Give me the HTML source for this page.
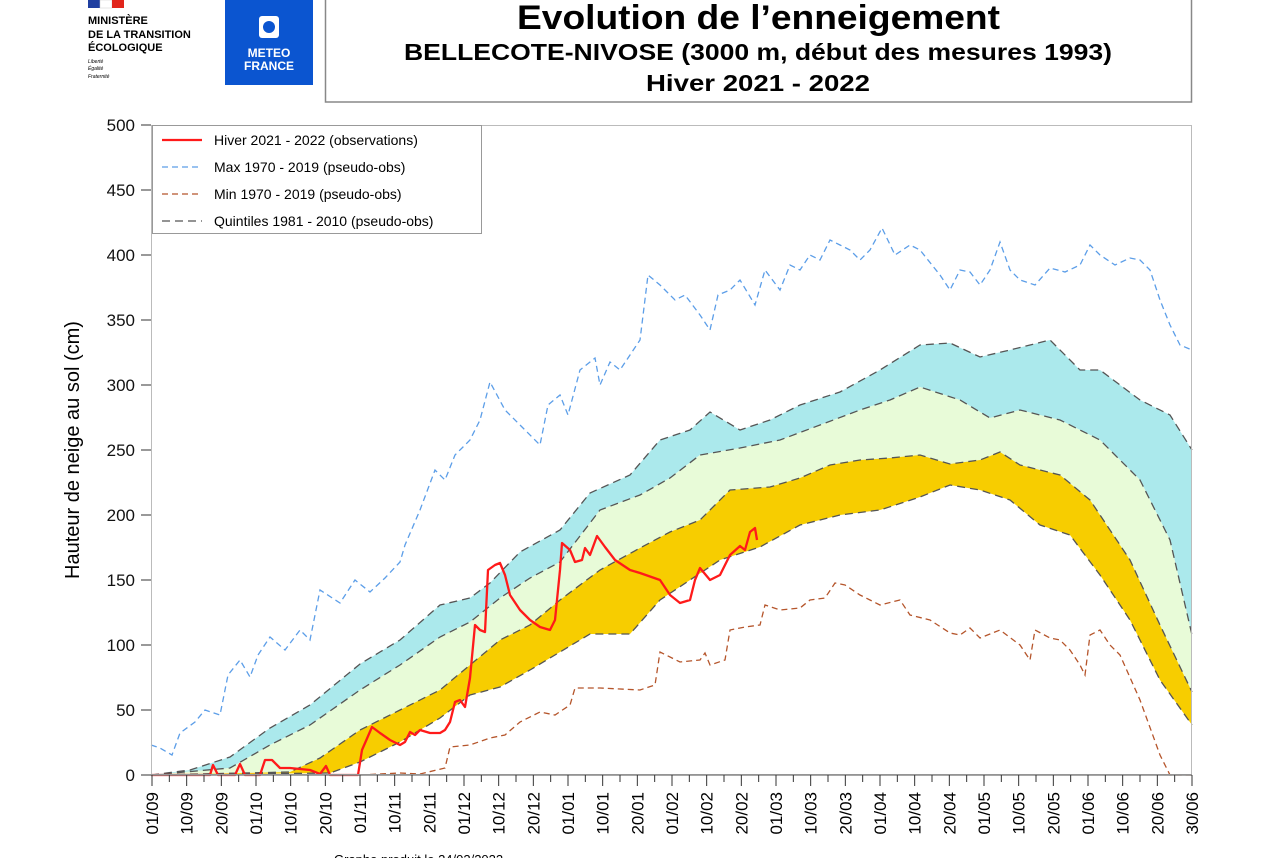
<!DOCTYPE html>
<html><head><meta charset="utf-8"><style>
body{margin:0;background:#fff;width:1287px;height:858px;overflow:hidden;font-family:"Liberation Sans",sans-serif}
</style></head><body>
<svg width="1287" height="858" xmlns="http://www.w3.org/2000/svg" font-family="Liberation Sans, sans-serif">
<rect x="88" y="0" width="12" height="8" fill="#1f3fa0"/><rect x="100" y="0" width="12" height="8" fill="#fff" stroke="#ccc" stroke-width="0.5"/><rect x="112" y="0" width="12" height="8" fill="#e1251b"/>
<text x="88" y="24" font-size="11" font-weight="bold">MINISTÈRE</text>
<text x="88" y="38" font-size="11" font-weight="bold">DE LA TRANSITION</text>
<text x="88" y="51" font-size="11" font-weight="bold">ÉCOLOGIQUE</text>
<text x="88" y="63" font-size="5" font-style="italic">Liberté</text><text x="88" y="70" font-size="5" font-style="italic">Égalité</text><text x="88" y="78" font-size="5" font-style="italic">Fraternité</text>
<rect x="225" y="0" width="88" height="85" fill="#0b55d0"/>
<rect x="259" y="16" width="20" height="22" rx="3" fill="#fff"/><circle cx="269" cy="27" r="6" fill="#0b55d0"/>
<text x="269" y="57" font-size="12" font-weight="bold" fill="#fff" text-anchor="middle">METEO</text>
<text x="269" y="70" font-size="12" font-weight="bold" fill="#fff" text-anchor="middle">FRANCE</text>
<rect x="325.5" y="-2" width="866" height="104" fill="none" stroke="#888" stroke-width="1.5"/>
<text x="517" y="29" font-size="34" font-weight="bold" textLength="483" lengthAdjust="spacingAndGlyphs">Evolution de l’enneigement</text>
<text x="404" y="60" font-size="23" font-weight="bold" textLength="708" lengthAdjust="spacingAndGlyphs">BELLECOTE-NIVOSE (3000 m, début des mesures 1993)</text>
<text x="646" y="91" font-size="23" font-weight="bold" textLength="224" lengthAdjust="spacingAndGlyphs">Hiver 2021 - 2022</text>

<g id="bands" stroke="none">
<polygon fill="#abe9ec" points="151,775 190,770 230,757 270,728 310,705 360,664 400,640 440,605 470,598 490,583 520,552 560,530 590,493 630,475 660,440 690,430 710,412 740,430 770,420 800,405 840,392 880,370 920,345 950,343 980,357 1010,350 1050,340 1080,370 1100,370 1140,400 1170,415 1192,450 1192,635 1170,540 1140,480 1100,440 1060,420 1020,410 990,418 960,400 920,387 890,400 860,410 820,425 780,440 740,448 700,455 670,478 640,495 600,510 560,562 530,578 500,598 470,622 440,637 400,665 360,690 310,725 270,745 230,768"/>
<polygon fill="#e8fbd8" points="151,775 230,768 270,745 310,725 360,690 400,665 440,637 470,622 500,598 530,578 560,562 600,510 640,495 670,478 700,455 740,448 780,440 820,425 860,410 890,400 920,387 960,400 990,418 1020,410 1060,420 1100,440 1140,480 1170,540 1192,635 1192,692 1160,625 1130,560 1090,500 1060,475 1020,465 1000,452 980,460 950,464 920,455 890,458 860,460 830,465 800,478 770,487 730,490 700,520 670,532 640,548 600,570 560,600 530,625 500,640 470,665 440,690 400,710 360,730 320,758 290,772"/>
<polygon fill="#f7cd00" points="151,775 290,772 320,758 360,730 400,710 440,690 470,665 500,640 530,625 560,600 600,570 640,548 670,532 700,520 730,490 770,487 800,478 830,465 860,460 890,458 920,455 950,464 980,460 1000,452 1020,465 1060,475 1090,500 1130,560 1160,625 1192,692 1192,725 1160,680 1130,620 1100,575 1070,535 1040,525 1010,500 980,490 950,485 920,497 880,510 840,515 800,525 760,547 720,560 690,580 660,600 630,634 590,634 560,652 530,670 500,687 470,695 440,718 400,742 360,762 330,773"/>
</g>
<g fill="none" stroke="#555" stroke-width="1.3" stroke-dasharray="8,5">
<polyline points="151,775 190,770 230,757 270,728 310,705 360,664 400,640 440,605 470,598 490,583 520,552 560,530 590,493 630,475 660,440 690,430 710,412 740,430 770,420 800,405 840,392 880,370 920,345 950,343 980,357 1010,350 1050,340 1080,370 1100,370 1140,400 1170,415 1192,450"/>
<polyline points="151,775 230,768 270,745 310,725 360,690 400,665 440,637 470,622 500,598 530,578 560,562 600,510 640,495 670,478 700,455 740,448 780,440 820,425 860,410 890,400 920,387 960,400 990,418 1020,410 1060,420 1100,440 1140,480 1170,540 1192,635"/>
<polyline points="151,775 290,772 320,758 360,730 400,710 440,690 470,665 500,640 530,625 560,600 600,570 640,548 670,532 700,520 730,490 770,487 800,478 830,465 860,460 890,458 920,455 950,464 980,460 1000,452 1020,465 1060,475 1090,500 1130,560 1160,625 1192,692"/>
<polyline points="151,775 330,773 360,762 400,742 440,718 470,695 500,687 530,670 560,652 590,634 630,634 660,600 690,580 720,560 760,547 800,525 840,515 880,510 920,497 950,485 980,490 1010,500 1040,525 1070,535 1100,575 1130,620 1160,680 1192,725"/>
</g>
<polyline fill="none" stroke="#5c9ee8" stroke-width="1.3" stroke-dasharray="6,4" points="151,745 160,748 172,755 180,733 195,722 205,710 220,715 228,675 240,660 250,677 258,655 270,637 285,650 300,630 310,640 320,590 340,603 355,580 370,592 385,578 400,562 405,545 420,510 435,470 445,480 455,455 470,440 480,420 490,382 505,410 520,425 540,445 548,405 560,395 568,415 580,370 595,358 600,385 610,362 620,370 630,355 640,340 648,275 660,285 675,300 685,295 700,315 710,330 718,295 730,290 740,280 755,305 765,270 780,290 790,265 800,270 810,255 820,260 830,240 840,245 850,250 860,260 870,250 882,228 895,255 910,245 920,250 940,275 950,290 960,270 970,272 980,285 990,270 1000,242 1010,270 1020,280 1035,285 1050,268 1065,272 1080,265 1090,245 1100,255 1115,265 1130,258 1140,260 1150,270 1160,300 1170,325 1180,345 1192,350"/>
<polyline fill="none" stroke="#b5552b" stroke-width="1.3" stroke-dasharray="6,4" points="360,775 400,773 420,774 445,768 450,747 470,745 490,738 505,735 520,722 540,712 555,715 570,705 575,688 600,688 640,690 655,685 660,652 680,662 700,660 705,653 710,665 725,660 730,630 745,627 760,625 765,605 780,610 800,608 810,600 825,598 835,583 845,585 860,595 880,605 900,600 910,615 930,620 950,633 960,635 970,628 980,638 1000,630 1020,645 1030,660 1035,630 1050,638 1060,640 1070,650 1080,665 1085,675 1090,635 1100,630 1110,645 1120,655 1140,700 1160,755 1170,775 1192,775"/>
<polyline fill="none" stroke="#ff1a1a" stroke-width="2.3" stroke-linejoin="round" points="151,775 210,775 213,765 218,775 235,775 240,764 245,775 260,775 265,760 272,760 280,768 290,768 310,770 320,774 326,766 330,775 358,775 362,750 372,727 380,733 390,740 400,745 405,742 410,732 415,735 420,730 430,733 440,733 445,730 450,722 455,702 460,700 465,707 470,678 475,625 480,630 485,632 488,570 495,565 500,563 505,575 510,595 520,610 530,620 540,627 550,630 555,620 560,570 562,543 570,550 575,562 582,560 585,548 590,555 597,536 605,547 615,560 630,570 640,573 660,580 670,595 680,603 690,600 695,580 700,568 710,580 720,575 730,555 740,546 745,550 750,532 755,528 757,540"/>

<rect x="151.5" y="125.5" width="1040" height="649" fill="none" stroke="#bbb" stroke-width="1"/>
<line x1="151" y1="775" x2="1192" y2="775" stroke="#888" stroke-width="1.5"/>
<g font-size="17" text-anchor="end" fill="#111">
<text x="135" y="781">0</text><text x="135" y="716">50</text><text x="135" y="651">100</text><text x="135" y="586">150</text><text x="135" y="521">200</text><text x="135" y="456">250</text><text x="135" y="391">300</text><text x="135" y="326">350</text><text x="135" y="261">400</text><text x="135" y="196">450</text><text x="135" y="131">500</text>
</g>
<g stroke="#333"><line x1="141" y1="775" x2="151" y2="775"/><line x1="141" y1="710" x2="151" y2="710"/><line x1="141" y1="645" x2="151" y2="645"/><line x1="141" y1="580" x2="151" y2="580"/><line x1="141" y1="515" x2="151" y2="515"/><line x1="141" y1="450" x2="151" y2="450"/><line x1="141" y1="385" x2="151" y2="385"/><line x1="141" y1="320" x2="151" y2="320"/><line x1="141" y1="255" x2="151" y2="255"/><line x1="141" y1="190" x2="151" y2="190"/><line x1="141" y1="125" x2="151" y2="125"/></g>
<text transform="translate(79,450) rotate(-90)" font-size="20" text-anchor="middle">Hauteur de neige au sol (cm)</text>
<g id="xt"></g>
<rect x="152.5" y="125.5" width="329" height="108" fill="#fff" stroke="#999"/>
<line x1="162" y1="140" x2="202" y2="140" stroke="#ff1a1a" stroke-width="2.3"/>
<line x1="162" y1="167" x2="202" y2="167" stroke="#5c9ee8" stroke-width="1.3" stroke-dasharray="6,4"/>
<line x1="162" y1="194" x2="202" y2="194" stroke="#b5552b" stroke-width="1.3" stroke-dasharray="6,4"/>
<line x1="162" y1="221" x2="202" y2="221" stroke="#555" stroke-width="1.3" stroke-dasharray="8,5"/>
<g font-size="14"><text x="214" y="145">Hiver 2021 - 2022 (observations)</text><text x="214" y="172">Max 1970 - 2019 (pseudo-obs)</text><text x="214" y="199">Min 1970 - 2019 (pseudo-obs)</text><text x="214" y="226">Quintiles 1981 - 2010 (pseudo-obs)</text></g>
<text x="334" y="864" font-size="13">Graphe produit le 24/02/2022</text>
</svg>
<script>
var labs=["01/09","10/09","20/09","01/10","10/10","20/10","01/11","10/11","20/11","01/12","10/12","20/12","01/01","10/01","20/01","01/02","10/02","20/02","01/03","10/03","20/03","01/04","10/04","20/04","01/05","10/05","20/05","01/06","10/06","20/06","30/06"];
var g=document.getElementById('xt'),s='',x0=152,x1=1192,st=(x1-x0)/30;
for(var i=0;i<=60;i++){var x=x0+i*st/2;s+='<line x1="'+x+'" y1="775" x2="'+x+'" y2="'+(i%2?782:786)+'" stroke="#333"/>';}
labs.forEach(function(l,i){var x=x0+i*st+6;s+='<text transform="translate('+x+',792) rotate(-90)" font-size="17" text-anchor="end">'+l+'</text>';});
g.innerHTML=s;
</script>
</body></html>
